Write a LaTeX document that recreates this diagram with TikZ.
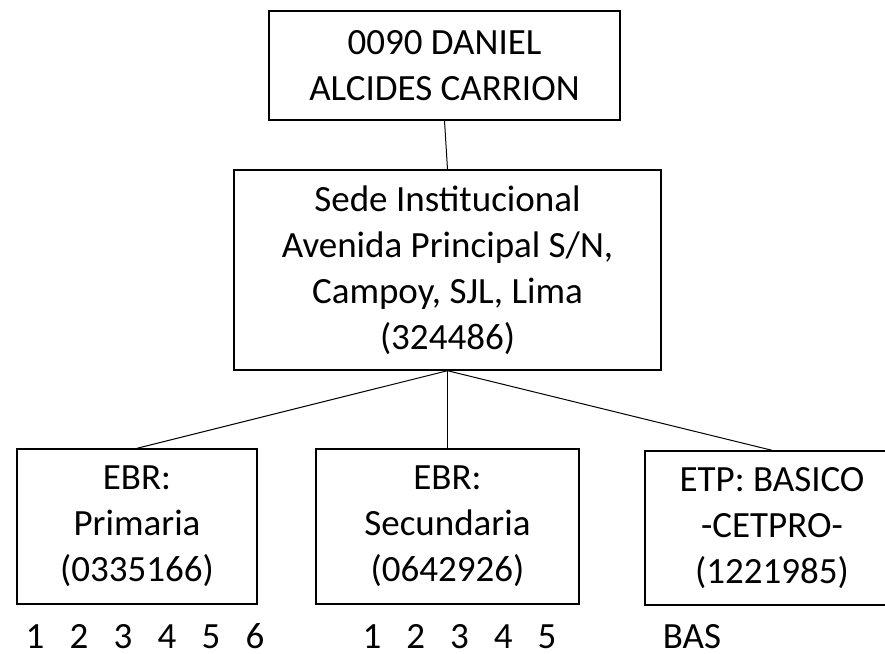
\documentclass[tikz,border=0pt]{standalone}
\usepackage{fontspec}
\setmainfont{Carlito}
\begin{document}
\begin{tikzpicture}[x=1pt,y=-1pt,
    caja/.style={draw,line width=1.4pt,align=center,inner sep=0pt,
      font=\fontsize{37}{46}\selectfont},
    num/.style={font=\fontsize{37}{46}\selectfont,anchor=base,inner sep=0pt}] %Organigrama de la IE
            \useasboundingbox (0,0) rectangle (885,653);

            \node[caja,minimum width=351pt,minimum height=109pt] (ie) at (444.5,65.5) {0090 DANIEL\\ALCIDES CARRION};
            \node[caja,minimum width=427pt,minimum height=200pt] (sede) at (447.5,270) {Sede Institucional\\Avenida Principal S/N,\\Campoy, SJL, Lima\\(324486)};

            \node[caja,minimum width=240pt,minimum height=155pt] (prim) at (137,526.5) {EBR:\\Primaria\\(0335166)};
            \node[caja,minimum width=263pt,minimum height=155pt] (sec) at (447.5,526.5) {EBR:\\Secundaria\\(0642926)};
            \node[caja,minimum width=254pt,minimum height=154pt] (etp) at (772,528) {ETP: BASICO\\-CETPRO-\\(1221985)};

            \draw[line width=1pt] (ie.south) -- (sede.north);
            \draw[line width=1pt] (sede.south) -- (prim.north);
            \draw[line width=1pt] (sede.south) -- (sec.north);
            \draw[line width=1pt] (sede.south) -- (etp.north);

            \foreach \i in {1,...,6}
              \node[num] (pri\i) at ({35+44*(\i-1)},648) {\i};
            \foreach \i in {1,...,5}
              \node[num] (sec\i) at ({372+43.75*(\i-1)},648) {\i};
            \node[num] (bas) at (692,648) {BAS};
\end{tikzpicture}
\end{document}
